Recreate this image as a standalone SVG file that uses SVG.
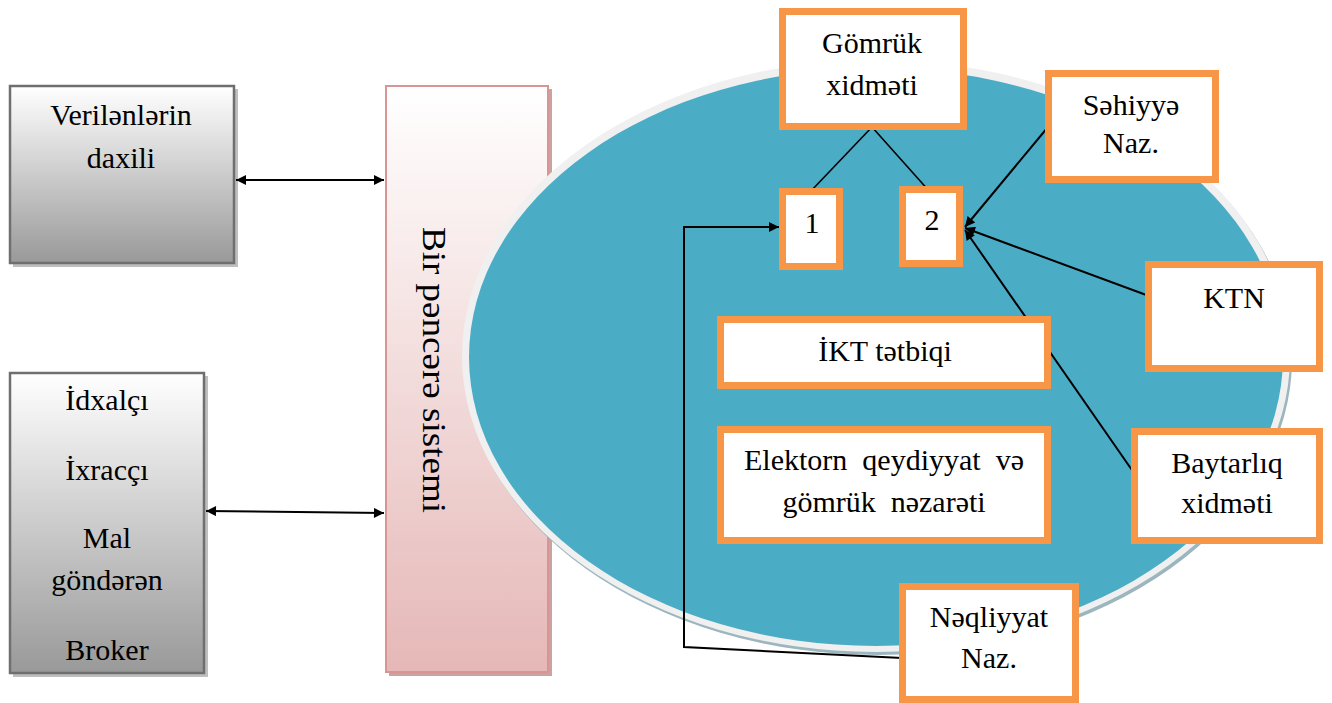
<svg xmlns="http://www.w3.org/2000/svg" width="1332" height="703" viewBox="0 0 1332 703">
<defs>
<linearGradient id="gGray" x1="0" y1="0" x2="0" y2="1">
<stop offset="0" stop-color="#ffffff"/>
<stop offset="1" stop-color="#999999"/>
</linearGradient>
<linearGradient id="gPink" x1="0" y1="0" x2="0" y2="1">
<stop offset="0" stop-color="#ffffff"/>
<stop offset="1" stop-color="#e5b8b7"/>
</linearGradient>
<marker id="ah" viewBox="0 0 10 10" refX="10" refY="5" markerWidth="12" markerHeight="10" markerUnits="userSpaceOnUse" orient="auto-start-reverse">
<path d="M0,0 L10,5 L0,10 z" fill="#000"/>
</marker>
</defs>
<style>
text{font-family:'Liberation Serif','Tinos','DejaVu Serif',serif;font-size:30px;fill:#000;text-anchor:middle}
.gbox{fill:url(#gGray);stroke:#6f6f6f;stroke-width:2.5}
.shadow{fill:#bfbfbf}
.obox{fill:#fff;stroke:#f79646;stroke-width:7}
.ln{fill:none;stroke:#000;stroke-width:1.6}
.ar{fill:none;stroke:#000;stroke-width:2}
</style>
<rect width="1332" height="703" fill="#fff"/>

<g id="verilenler">
<rect class="shadow" x="13" y="89" width="225" height="178"/>
<rect class="gbox" x="10" y="86" width="224" height="177"/>
<text x="121" y="125">Verilənlərin</text>
<text x="121" y="168">daxili</text>
</g>

<g id="istifadeciler">
<rect class="shadow" x="13" y="376" width="195" height="301"/>
<rect class="gbox" x="10" y="373" width="194" height="300"/>
<text x="107" y="410">İdxalçı</text>
<text x="107" y="480">İxracçı</text>
<text x="107" y="548">Mal</text>
<text x="107" y="590">göndərən</text>
<text x="107" y="660">Broker</text>
</g>

<g id="bir-pencere">
<rect x="389" y="89" width="163" height="587" fill="#c9a3a3"/>
<rect x="386" y="86" width="162" height="586" fill="url(#gPink)" stroke="#d99594" stroke-width="2"/>
<text transform="translate(423,370) rotate(90)" x="0" y="0" textLength="286" lengthAdjust="spacingAndGlyphs" style="font-size:33px">Bir pəncərə sistemi</text>
</g>

<g id="ellipse">
<ellipse cx="878" cy="359" rx="414" ry="296" fill="#9cb6bf"/>
<ellipse cx="876" cy="356" rx="414" ry="296" fill="#f0f0f0"/>
<ellipse cx="876" cy="357" rx="407" ry="289" fill="#4bacc6"/>
</g>

<g id="connectors">
<line class="ar" x1="236" y1="180" x2="384" y2="180" marker-start="url(#ah)" marker-end="url(#ah)"/>
<line class="ar" x1="206" y1="511" x2="384" y2="513" marker-start="url(#ah)" marker-end="url(#ah)"/>
<line class="ln" x1="872" y1="127" x2="810" y2="192"/>
<line class="ln" x1="872" y1="127" x2="930" y2="192"/>
<path class="ar" d="M902,658 L684,647 L684,227 L779,227" marker-end="url(#ah)"/>
<line class="ar" x1="1048" y1="127" x2="965" y2="227" marker-end="url(#ah)"/>
<line class="ar" x1="1149" y1="296" x2="965" y2="228" marker-end="url(#ah)"/>
<line class="ar" x1="1134" y1="473" x2="965" y2="230" marker-end="url(#ah)"/>
</g>

<g id="gomruk">
<rect class="obox" x="782.5" y="11.5" width="181" height="115"/>
<text x="872" y="53">Gömrük</text>
<text x="872" y="95">xidməti</text>
</g>

<g id="box1">
<rect class="obox" x="782.5" y="191.5" width="57" height="75"/>
<text x="812" y="233">1</text>
</g>

<g id="box2">
<rect class="obox" x="902.5" y="189.5" width="57" height="74"/>
<text x="932" y="230">2</text>
</g>

<g id="sehiyye">
<rect class="obox" x="1048.5" y="73.5" width="167" height="106"/>
<text x="1131" y="115">Səhiyyə</text>
<text x="1131" y="153">Naz.</text>
</g>

<g id="ktn">
<rect class="obox" x="1148.5" y="264.5" width="171" height="104"/>
<text x="1234" y="308">KTN</text>
</g>

<g id="ikt">
<rect class="obox" x="720.5" y="319.5" width="327" height="66"/>
<text x="885" y="361">İKT tətbiqi</text>
</g>

<g id="elektron">
<rect class="obox" x="720.5" y="429.5" width="327" height="111"/>
<text x="884" y="470" word-spacing="7.5">Elektorn qeydiyyat və</text>
<text x="884" y="512" word-spacing="7.5">gömrük nəzarəti</text>
</g>

<g id="baytarliq">
<rect class="obox" x="1134.5" y="431.5" width="185" height="109"/>
<text x="1227" y="473">Baytarlıq</text>
<text x="1227" y="513">xidməti</text>
</g>

<g id="neqliyyat">
<rect class="obox" x="902.5" y="586.5" width="173" height="113"/>
<text x="989" y="627">Nəqliyyat</text>
<text x="989" y="668">Naz.</text>
</g>
</svg>
